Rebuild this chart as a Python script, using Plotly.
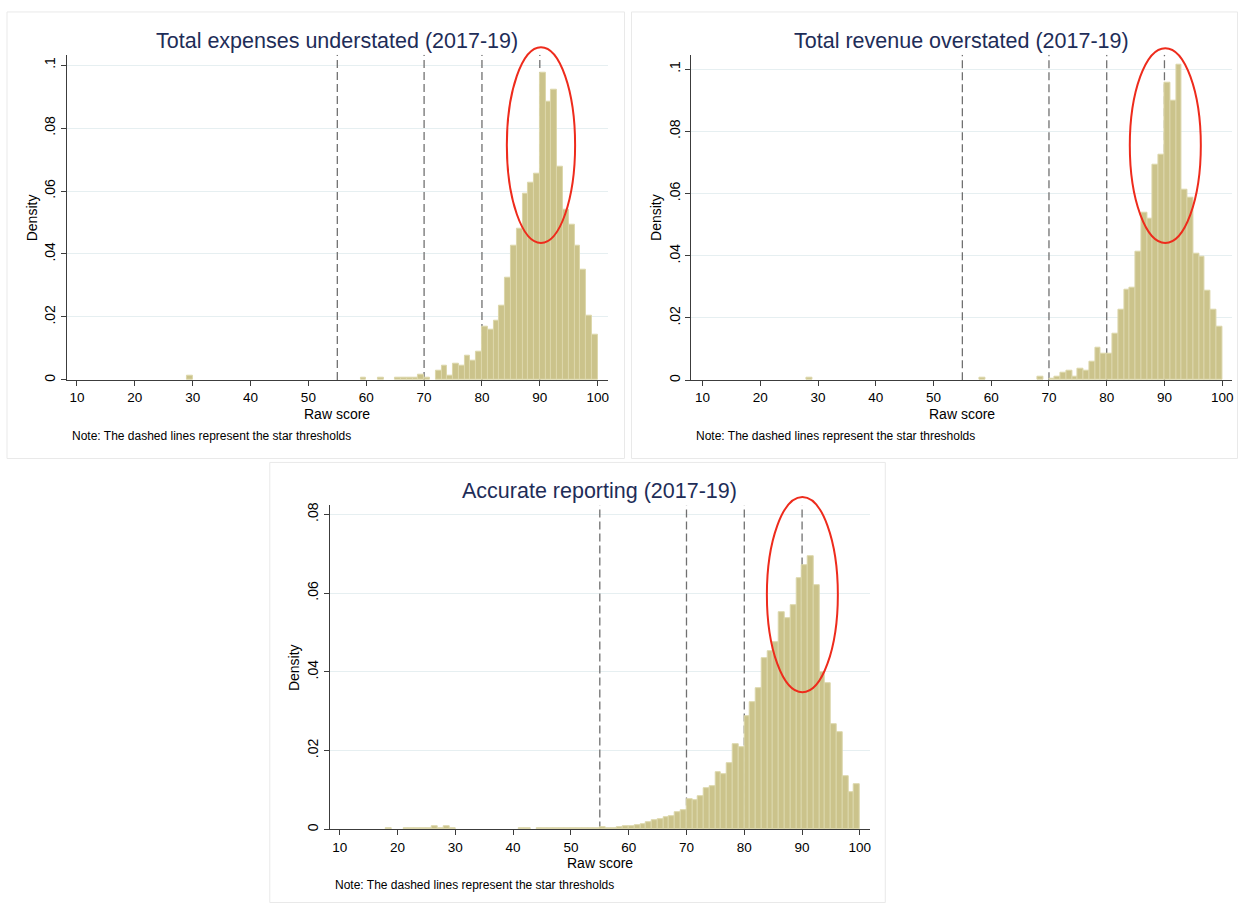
import numpy as np
import plotly.graph_objects as go

# Histogram densities (bin width 1, bins labelled by left edge)
exp_bins = [29, 59, 62, 65, 66, 67, 68, 69, 70, 72, 73, 74, 75, 76, 77, 78, 79,
            80, 81, 82, 83, 84, 85, 86, 87, 88, 89, 90, 91, 92, 93, 94, 95, 96, 97, 98, 99]
exp_density = [0.0014, 0.0007, 0.0007, 0.0007, 0.0007, 0.0007, 0.0007, 0.0015, 0.0007,
               0.0029, 0.0045, 0.0014, 0.0053, 0.0045, 0.0076, 0.0061, 0.0090,
               0.0168, 0.0160, 0.0189, 0.0235, 0.0326, 0.0426, 0.0479, 0.0593, 0.0625, 0.0654,
               0.0975, 0.0883, 0.0921, 0.0678, 0.0540, 0.0494, 0.0426, 0.0350, 0.0205, 0.0144]

rev_bins = [28, 58, 68, 70, 71, 72, 73, 74, 75, 76, 77, 78, 79,
            80, 81, 82, 83, 84, 85, 86, 87, 88, 89, 90, 91, 92, 93, 94, 95, 96, 97, 98, 99]
rev_density = [0.0008, 0.0007, 0.0012, 0.0005, 0.0012, 0.0024, 0.0032, 0.0012, 0.0038,
               0.0032, 0.0059, 0.0105, 0.0086,
               0.0086, 0.0151, 0.0227, 0.0290, 0.0298, 0.0413, 0.0538, 0.0519, 0.0691, 0.0724,
               0.0957, 0.0899, 0.1013, 0.0613, 0.0585, 0.0406, 0.0398, 0.0287, 0.0226, 0.0172]

acc_bins = [18, 21, 22, 23, 24, 25, 26, 27, 28, 29, 41, 42,
            44, 45, 46, 47, 48, 49, 50, 51, 52, 53, 54, 55, 56, 57, 58, 59,
            60, 61, 62, 63, 64, 65, 66, 67, 68, 69, 70, 71, 72, 73, 74, 75, 76, 77, 78, 79,
            80, 81, 82, 83, 84, 85, 86, 87, 88, 89, 90, 91, 92, 93, 94, 95, 96, 97, 98, 99]
acc_density = [0.0003, 0.0003, 0.0003, 0.0004, 0.0004, 0.0004, 0.0008, 0.0003, 0.0007, 0.0002,
               0.0003, 0.0003,
               0.0002, 0.0002, 0.0002, 0.0002, 0.0002, 0.0002, 0.0002, 0.0002, 0.0002, 0.0002,
               0.0004, 0.0005, 0.0004, 0.0004, 0.0005, 0.0007,
               0.0009, 0.0010, 0.0013, 0.0018, 0.0023, 0.0026, 0.0030, 0.0033, 0.0043, 0.0049,
               0.0076, 0.0073, 0.0085, 0.0105, 0.0110, 0.0145, 0.0139, 0.0168, 0.0216, 0.0208,
               0.0288, 0.0324, 0.0358, 0.0434, 0.0452, 0.0476, 0.0551, 0.0535, 0.0568, 0.0638,
               0.0670, 0.0694, 0.0620, 0.0400, 0.0372, 0.0266, 0.0247, 0.0134, 0.0094, 0.0114]

titles = ["Total expenses understated (2017-19)",
          "Total revenue overstated (2017-19)",
          "Accurate reporting (2017-19)"]
thresholds = [55, 70, 80, 90]
x_ticks = [10, 20, 30, 40, 50, 60, 70, 80, 90, 100]
y_ticks_a = [0, 0.02, 0.04, 0.06, 0.08, 0.1]
y_ticklabels_a = ["0", ".02", ".04", ".06", ".08", ".1"]
y_ticks_b = [0, 0.02, 0.04, 0.06, 0.08]
y_ticklabels_b = ["0", ".02", ".04", ".06", ".08"]
note_text = "Note: The dashed lines represent the star thresholds"

# highlight ellipse around the 90 threshold: centre x, centre y, radius x, radius y
highlights = [(90.2, 0.0746, 5.9, 0.0311),
              (90.15, 0.0754, 6.15, 0.0313),
              (90.05, 0.0596, 6.14, 0.0248)]

W, H = 1239, 905

# panel geometry in pixels: plot left, right, top, bottom; axis ranges
panels = [
    dict(bins=exp_bins, dens=exp_density, px=(67, 608), py=(52, 379),
         xr=[8.27, 101.7], yr=[0, 0.1033], yt=y_ticks_a, ytl=y_ticklabels_a,
         box=(7, 625, 9, 458)),
    dict(bins=rev_bins, dens=rev_density, px=(692, 1233), py=(52, 379.3),
         xr=[8.08, 101.7], yr=[0, 0.1046], yt=y_ticks_a, ytl=y_ticklabels_a,
         box=(632, 1238.5, 9, 458)),
    dict(bins=acc_bins, dens=acc_density, px=(330, 870.4), py=(505, 831),
         xr=[8.27, 101.7], yr=[0, 0.0823], yt=y_ticks_b, ytl=y_ticklabels_b,
         box=(270, 886, 462, 904.5)),
]

FONT = "Liberation Sans, Arial, Helvetica, sans-serif"
BAR_FILL = "#cbc38b"
BAR_EDGE = "#dcd7ab"
TITLE_COLOR = "#1e2d58"
GRID = "#e6eff1"
AXIS = "#3c3c3c"

fig = go.Figure()
layout = dict(width=W, height=H, margin=dict(l=0, r=0, t=0, b=0),
              paper_bgcolor="white", plot_bgcolor="white", showlegend=False,
              bargap=0, font=dict(family=FONT, color="black"))
shapes, annotations = [], []

for i, p in enumerate(panels):
    n = "" if i == 0 else str(i + 1)
    xa, ya = "x" + n, "y" + n
    x0, x1 = p["px"]
    t, b = p["py"]

    fig.add_trace(go.Bar(
        x=[v + 0.5 for v in p["bins"]], y=p["dens"], width=1,
        marker=dict(color=BAR_FILL, line=dict(color=BAR_EDGE, width=1)),
        xaxis=xa, yaxis=ya, hoverinfo="x+y"))

    layout["xaxis" + n] = dict(
        domain=[x0 / W, x1 / W], range=p["xr"], anchor=ya,
        tickvals=x_ticks, ticks="outside", ticklen=5, tickcolor=AXIS,
        showline=True, linecolor=AXIS, linewidth=1, showgrid=False, zeroline=False,
        tickfont=dict(size=13.5, color="black", family=FONT))
    layout["yaxis" + n] = dict(
        domain=[1 - b / H, 1 - t / H], range=p["yr"], anchor=xa,
        tickvals=p["yt"], ticktext=p["ytl"], tickangle=-90,
        ticks="outside", ticklen=5, tickcolor=AXIS,
        showline=True, linecolor=AXIS, linewidth=1,
        showgrid=True, gridcolor=GRID, gridwidth=1, zeroline=False,
        tickfont=dict(size=14, color="black", family=FONT))

    # star-threshold markers
    for th in thresholds:
        shapes.append(dict(type="line", xref=xa, yref=ya, x0=th, x1=th,
                           y0=0, y1=p["yr"][1], layer="between",
                           line=dict(color="#707070", width=1.3, dash="8px,4px")))

    # red highlight ellipse, placed in axis-domain units so it is not clipped
    cx, cy, rx, ry = highlights[i]
    xr, yr = p["xr"], p["yr"]
    fx = lambda v: (v - xr[0]) / (xr[1] - xr[0])
    fy = lambda v: (v - yr[0]) / (yr[1] - yr[0])
    shapes.append(dict(type="circle", xref=xa + " domain", yref=ya + " domain",
                       x0=fx(cx - rx), x1=fx(cx + rx), y0=fy(cy - ry), y1=fy(cy + ry),
                       layer="above", line=dict(color="#ee2b1c", width=2)))

    # panel frame
    bx0, bx1, by0, by1 = p["box"]
    shapes.append(dict(type="rect", xref="paper", yref="paper",
                       x0=bx0 / W, x1=bx1 / W, y0=1 - by1 / H, y1=1 - by0 / H,
                       line=dict(color="#e9e9e9", width=1), layer="below"))

    xc = (x0 + x1) / 2
    annotations.append(dict(text=titles[i], xref="paper", yref="paper",
                            x=xc / W, y=1 - (t - 14) / H, xanchor="center", yanchor="middle",
                            showarrow=False, font=dict(size=21.5, color=TITLE_COLOR, family=FONT)))
    annotations.append(dict(text="Raw score", xref="paper", yref="paper",
                            x=xc / W, y=1 - (b + 34) / H, xanchor="center", yanchor="middle",
                            showarrow=False, font=dict(size=14, color="black", family=FONT)))
    annotations.append(dict(text="Density", xref="paper", yref="paper",
                            x=(x0 - 35) / W, y=1 - ((t + b) / 2) / H, textangle=-90,
                            xanchor="center", yanchor="middle",
                            showarrow=False, font=dict(size=14, color="black", family=FONT)))
    annotations.append(dict(text=note_text, xref="paper", yref="paper",
                            x=(x0 + 3) / W, y=1 - (b + 56) / H, xanchor="left", yanchor="middle",
                            showarrow=False, font=dict(size=12, color="black", family=FONT)))

layout["shapes"] = shapes
layout["annotations"] = annotations
fig.update_layout(**layout)
fig.write_html("out.html")
